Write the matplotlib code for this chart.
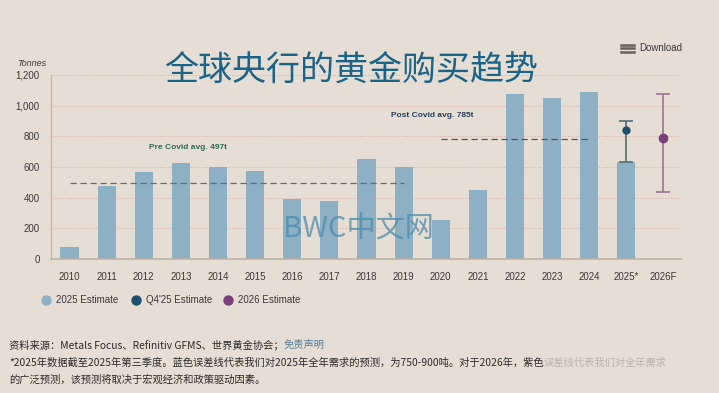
import matplotlib
matplotlib.use("Agg")
import matplotlib.pyplot as plt
import numpy as np

# ---- data ----
years = ['2010', '2011', '2012', '2013', '2014', '2015', '2016', '2017', '2018',
         '2019', '2020', '2021', '2022', '2023', '2024', '2025*', '2026F']
purchases = [77, 476, 566, 627, 601, 577, 390, 379, 654, 603, 255, 447, 1078, 1048, 1087, 634, np.nan]
q4_estimate = 840
q4_range = [634, 900]
est_2026 = 790
range_2026 = [440, 1075]
pre_covid_avg = 497
post_covid_avg = 785
legend_labels = ['2025 Estimate', "Q4'25 Estimate", '2026 Estimate']
yticks = [0, 200, 400, 600, 800, 1000, 1200]

BG = '#e6ded4'
BAR = '#8db0c4'
NAVY = '#1f4f6e'
PURPLE = '#7b3f7c'

W, H = 719, 393
fig = plt.figure(figsize=(W / 100, H / 100), dpi=100, facecolor=BG)

def fx(x):
    return x / W

def fy(y):
    return 1 - y / H

ax = fig.add_axes([fx(51), fy(259), fx(682) - fx(51), fy(75) - fy(259)])
ax.set_facecolor(BG)

x = np.arange(len(years))
ax.bar(x, purchases, width=0.49, color=BAR, zorder=2)

# error bars
ax.errorbar([15], [q4_estimate], yerr=[[q4_estimate - q4_range[0]], [q4_range[1] - q4_estimate]],
            fmt='o', color=NAVY, ecolor='#4f6f78', elinewidth=1.2, capsize=5, capthick=1.2,
            markersize=5, zorder=3)
ax.errorbar([16], [est_2026], yerr=[[est_2026 - range_2026[0]], [range_2026[1] - est_2026]],
            fmt='o', color=PURPLE, ecolor='#a07099', elinewidth=1.2, capsize=5, capthick=1.2,
            markersize=6, zorder=3)

# averages
ax.plot([0, 9], [pre_covid_avg] * 2, linestyle=(0, (5, 3)), color='#4c7a66', lw=0.9, zorder=3)
ax.plot([10, 14], [post_covid_avg] * 2, linestyle=(0, (5, 3)), color='#555555', lw=0.9, zorder=3)
ax.text(3.2, 725, f'Pre Covid avg. {pre_covid_avg}t', color='#2f6b4f', fontsize=6,
        fontweight='bold', ha='center', va='center', family='Liberation Sans')
ax.text(9.77, 933, f'Post Covid avg. {post_covid_avg}t', color='#27405a', fontsize=6,
        fontweight='bold', ha='center', va='center', family='Liberation Sans')

ax.set_xlim(-0.5, len(years) - 0.5)
ax.set_ylim(0, 1200)
ax.set_yticks(yticks)
ax.set_yticklabels([f'{v:,}' for v in yticks])
ax.set_xticks(x)
ax.set_xticklabels(years)
ax.tick_params(axis='both', length=0, labelsize=7, colors='#3a3a3a')
ax.tick_params(axis='x', pad=9)
ax.tick_params(axis='y', pad=8)
for lab in ax.get_xticklabels() + ax.get_yticklabels():
    lab.set_family('Liberation Sans')
ax.grid(axis='y', linestyle=(0, (1, 1.5)), color='#d9b3aa', lw=0.8, zorder=0)
for s in ['top', 'right']:
    ax.spines[s].set_visible(False)
ax.spines['left'].set_color('#d6aea4')
ax.spines['bottom'].set_color('#bfb2a8')
ax.spines['left'].set_linewidth(0.9)
ax.spines['bottom'].set_linewidth(1.2)

fig.text(fx(17), fy(64), 'Tonnes', fontsize=6.5, style='italic', color='#3a3a3a',
         va='center', ha='left', family='Liberation Sans')

# title
fig.text(fx(351), fy(71), '全球央行的黄金购买趋势', fontsize=24.5, color='#1b6387',
         ha='center', va='center', family=['Noto Sans CJK SC', 'DejaVu Sans'])

# download
for dy in (-3.5, 0, 3.5):
    fig.add_artist(plt.Line2D([fx(621), fx(634)], [fy(48 + dy)] * 2, color='#6b5f5a', lw=1.8))
fig.text(fx(639), fy(48), 'Download', fontsize=7, color='#3a3a3a', va='center', ha='left',
         family='Liberation Sans')

# watermark
fig.text(fx(358), fy(229), 'BWC中文网', fontsize=21, color='#4c8bab', alpha=0.75,
         ha='center', va='center', family=['Noto Sans CJK SC', 'DejaVu Sans'], zorder=10)

# legend
leg_colors = [BAR, NAVY, PURPLE]
leg_x = [46, 136, 228]
for lx, c, t in zip(leg_x, leg_colors, legend_labels):
    fig.add_artist(plt.Line2D([fx(lx)], [fy(300)], marker='o', markersize=6.5, color=c, lw=0))
    fig.text(fx(lx + 10), fy(300), t, fontsize=7, color='#3a3a3a', va='center', ha='left',
             family='Liberation Sans')

# footnotes
cjk = ['Noto Sans CJK SC', 'DejaVu Sans']
FS = 7.4
t1 = fig.text(fx(9), fy(345), '资料来源：Metals Focus、Refinitiv GFMS、世界黄金协会；', fontsize=FS,
              color='#2b2b2b', va='center', ha='left', family=cjk)
fig.canvas.draw()
bb = t1.get_window_extent()
fig.text(bb.x1 / fig.bbox.width, fy(345), '免责声明', fontsize=FS, color='#5a7f99',
         va='center', ha='left', family=cjk)
t2 = fig.text(fx(9), fy(363), '*2025年数据截至2025年第三季度。蓝色误差线代表我们对2025年全年需求的预测，为750-900吨。对于2026年，紫色',
              fontsize=FS, color='#2b2b2b', va='center', ha='left', family=cjk)
fig.canvas.draw()
bb2 = t2.get_window_extent()
fig.text(bb2.x1 / fig.bbox.width, fy(363), '误差线代表我们对全年需求', fontsize=FS,
         color='#8a7a7a', alpha=0.45, va='center', ha='left', family=cjk)
fig.text(fx(9), fy(380), '的广泛预测，该预测将取决于宏观经济和政策驱动因素。', fontsize=FS,
         color='#2b2b2b', va='center', ha='left', family=cjk)

fig.savefig('out.png', dpi=100, facecolor=BG)
